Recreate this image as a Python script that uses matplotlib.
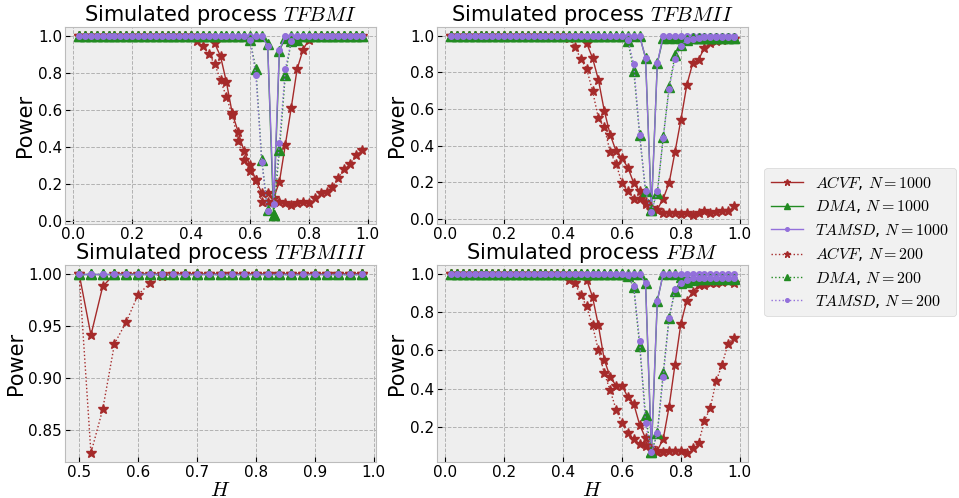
import numpy as np
import matplotlib
matplotlib.use("Agg")
import matplotlib.pyplot as plt

plt.style.use("bmh")
plt.rcParams["mathtext.fontset"] = "cm"
plt.rcParams["font.family"] = ["DejaVu Sans"]

H = np.round(np.arange(0.02, 0.99, 0.02), 2)
H3 = np.round(np.arange(0.50, 0.99, 0.02), 2)

def ones_then(n_before, seq, total=49, tail=1.0):
    vals = [1.0] * n_before + list(seq)
    vals += [tail] * (total - len(vals))
    return vals

# ---- TFBMI ----
t1_acvf_1000 = ones_then(23, [0.96, 0.89, 0.75, 0.58, 0.48, 0.375, 0.30, 0.22, 0.15, 0.15, 0.12,
                               0.21, 0.41, 0.61, 0.82, 0.925, 0.98])
t1_acvf_200 = ones_then(20, [0.97, 0.946, 0.90, 0.85, 0.76, 0.67, 0.57, 0.43, 0.33, 0.27, 0.22,
                              0.10, 0.10, 0.10, 0.10, 0.097, 0.085, 0.097, 0.10, 0.097, 0.12,
                              0.15, 0.155, 0.18, 0.23, 0.28, 0.305, 0.355, 0.38])
t1_dma_1000 = ones_then(32, [0.955, 0.03, 0.92, 0.99])
t1_tamsd_1000 = ones_then(32, [0.946, 0.10, 0.925, 1.0])
t1_dma_200 = ones_then(29, [0.98, 0.82, 0.33, 0.06, 0.03, 0.38, 0.79, 0.97, 0.98])
t1_tamsd_200 = ones_then(29, [0.98, 0.79, 0.32, 0.05, 0.09, 0.42, 0.82, 0.97, 1.0])

# ---- TFBMII ----
t2_acvf_1000 = ones_then(23, [0.96, 0.88, 0.76, 0.59, 0.46, 0.37, 0.33, 0.28, 0.195, 0.15, 0.09,
                               0.05, 0.05, 0.11, 0.195, 0.365, 0.54, 0.73, 0.85, 0.87, 0.935,
                               0.96, 0.97, 0.98, 0.985, 0.985])
t2_acvf_200 = ones_then(20, [0.99, 0.94, 0.875, 0.82, 0.70, 0.55, 0.50, 0.365, 0.30, 0.195, 0.15,
                              0.11, 0.11, 0.08, 0.06, 0.045, 0.03, 0.03, 0.03, 0.025, 0.03,
                              0.02, 0.03, 0.04, 0.03, 0.035, 0.04, 0.04, 0.07])
t2_dma_1000 = ones_then(33, [0.88, 0.05, 0.85], tail=0.99)
t2_tamsd_1000 = ones_then(33, [0.88, 0.04, 0.85])
t2_dma_200 = ones_then(30, [0.975, 0.81, 0.46, 0.15, 0.05, 0.14, 0.445, 0.72, 0.895, 0.95,
                             0.98, 0.99], tail=0.99)
t2_tamsd_200 = ones_then(30, [0.98, 0.845, 0.46, 0.15, 0.035, 0.15, 0.44, 0.71, 0.875, 0.945,
                               0.98, 0.985, 0.99], tail=0.995)

# ---- TFBMIII ----
t3_acvf_1000 = [1.0, 0.9413, 0.988] + [1.0] * 22
t3_acvf_200 = [1.0, 0.828, 0.870, 0.933, 0.954, 0.980, 0.991, 0.998] + [1.0] * 17
t3_dma_1000 = [1.0] * 25
t3_tamsd_1000 = [1.0] * 25
t3_dma_200 = [1.0] * 25
t3_tamsd_200 = [1.0] * 25

# ---- FBM ----
t4_acvf_1000 = ones_then(23, [0.97, 0.88, 0.73, 0.55, 0.46, 0.415, 0.415, 0.355, 0.32, 0.21, 0.14,
                               0.09, 0.075, 0.135, 0.305, 0.525, 0.74, 0.86, 0.905, 0.94, 0.94,
                               0.95, 0.95, 0.96, 0.965, 0.955])
t4_acvf_200 = ones_then(20, [0.97, 0.95, 0.89, 0.83, 0.73, 0.60, 0.48, 0.39, 0.29, 0.22, 0.165,
                              0.135, 0.11, 0.10, 0.08, 0.07, 0.065, 0.075, 0.075, 0.075, 0.062,
                              0.09, 0.115, 0.23, 0.30, 0.44, 0.525, 0.635, 0.665])
t4_dma_1000 = ones_then(33, [0.955, 0.065, 0.86, 1.0, 1.0, 1.0, 0.985, 0.98], tail=0.98)
t4_tamsd_1000 = ones_then(33, [0.95, 0.09, 0.86])
t4_dma_200 = ones_then(30, [0.99, 0.93, 0.625, 0.26, 0.065, 0.165, 0.48, 0.77, 0.91, 0.95,
                             0.96, 0.97], tail=0.975)
t4_tamsd_200 = ones_then(30, [0.995, 0.935, 0.65, 0.22, 0.065, 0.165, 0.46, 0.77, 0.92, 0.95,
                               0.97, 0.977], tail=0.98)

titles = [r"Simulated process $TFBMI$", r"Simulated process $TFBMII$",
          r"Simulated process $TFBMIII$", r"Simulated process $FBM$"]
labels = [r"$ACVF$, $N=1000$", r"$DMA$, $N=1000$", r"$TAMSD$, $N=1000$",
          r"$ACVF$, $N=200$", r"$DMA$, $N=200$", r"$TAMSD$, $N=200$"]
yticks_list = [[0.0, 0.2, 0.4, 0.6, 0.8, 1.0], [0.0, 0.2, 0.4, 0.6, 0.8, 1.0],
               [0.85, 0.90, 0.95, 1.00], [0.2, 0.4, 0.6, 0.8, 1.0]]
xticks_list = [[0.0, 0.2, 0.4, 0.6, 0.8, 1.0], [0.0, 0.2, 0.4, 0.6, 0.8, 1.0],
               [0.5, 0.6, 0.7, 0.8, 0.9, 1.0], [0.0, 0.2, 0.4, 0.6, 0.8, 1.0]]

panels = [
    (H, [t1_acvf_1000, t1_dma_1000, t1_tamsd_1000, t1_acvf_200, t1_dma_200, t1_tamsd_200]),
    (H, [t2_acvf_1000, t2_dma_1000, t2_tamsd_1000, t2_acvf_200, t2_dma_200, t2_tamsd_200]),
    (H3, [t3_acvf_1000, t3_dma_1000, t3_tamsd_1000, t3_acvf_200, t3_dma_200, t3_tamsd_200]),
    (H, [t4_acvf_1000, t4_dma_1000, t4_tamsd_1000, t4_acvf_200, t4_dma_200, t4_tamsd_200]),
]

colors = ["#a52a2a", "#228b22", "#9370db", "#a52a2a", "#228b22", "#9370db"]
markers = ["*", "^", ".", "*", "^", "."]
msizes = [7, 7, 8, 7, 7, 8]
styles = ["-", "-", "-", ":", ":", ":"]

fig = plt.figure(figsize=(9.59, 4.98), dpi=100)
fig.patch.set_facecolor("white")
positions = [
    [0.0678, 0.5502, 0.3243, 0.3956],
    [0.4557, 0.5502, 0.3243, 0.3956],
    [0.0678, 0.0723, 0.3243, 0.3956],
    [0.4557, 0.0723, 0.3243, 0.3956],
]
handles = []
for i, (pos, (x, series)) in enumerate(zip(positions, panels)):
    ax = fig.add_axes(pos)
    ax.set_facecolor("#eeeeee")
    hs = []
    for s, c, m, ms, ls, lab in zip(series, colors, markers, msizes, styles, labels):
        h, = ax.plot(x, s, color=c, marker=m, markersize=ms, linestyle=ls,
                     linewidth=1.0, label=lab)
        hs.append(h)
    if i == 0:
        handles = hs
    ax.set_title(titles[i], fontsize=15, pad=3)
    ax.set_ylabel("Power", fontsize=15, labelpad=2)
    ax.set_yticks(yticks_list[i])
    ax.set_xticks(xticks_list[i])
    ax.tick_params(labelsize=11, pad=2)
    ax.grid(True, color="#b2b2b2", linestyle="--", linewidth=0.7)
    if i >= 2:
        ax.set_xlabel(r"$H$", fontsize=15, labelpad=0)

leg = fig.legend(handles, labels, loc="center left", bbox_to_anchor=(0.797, 0.514),
                 fontsize=11.5, frameon=True, handlelength=2.0, borderaxespad=0,
                 labelspacing=0.4, markerscale=0.65)
leg.get_frame().set_facecolor("#eeeeee")
leg.get_frame().set_edgecolor("#cccccc")

fig.savefig("out.png", dpi=100)
